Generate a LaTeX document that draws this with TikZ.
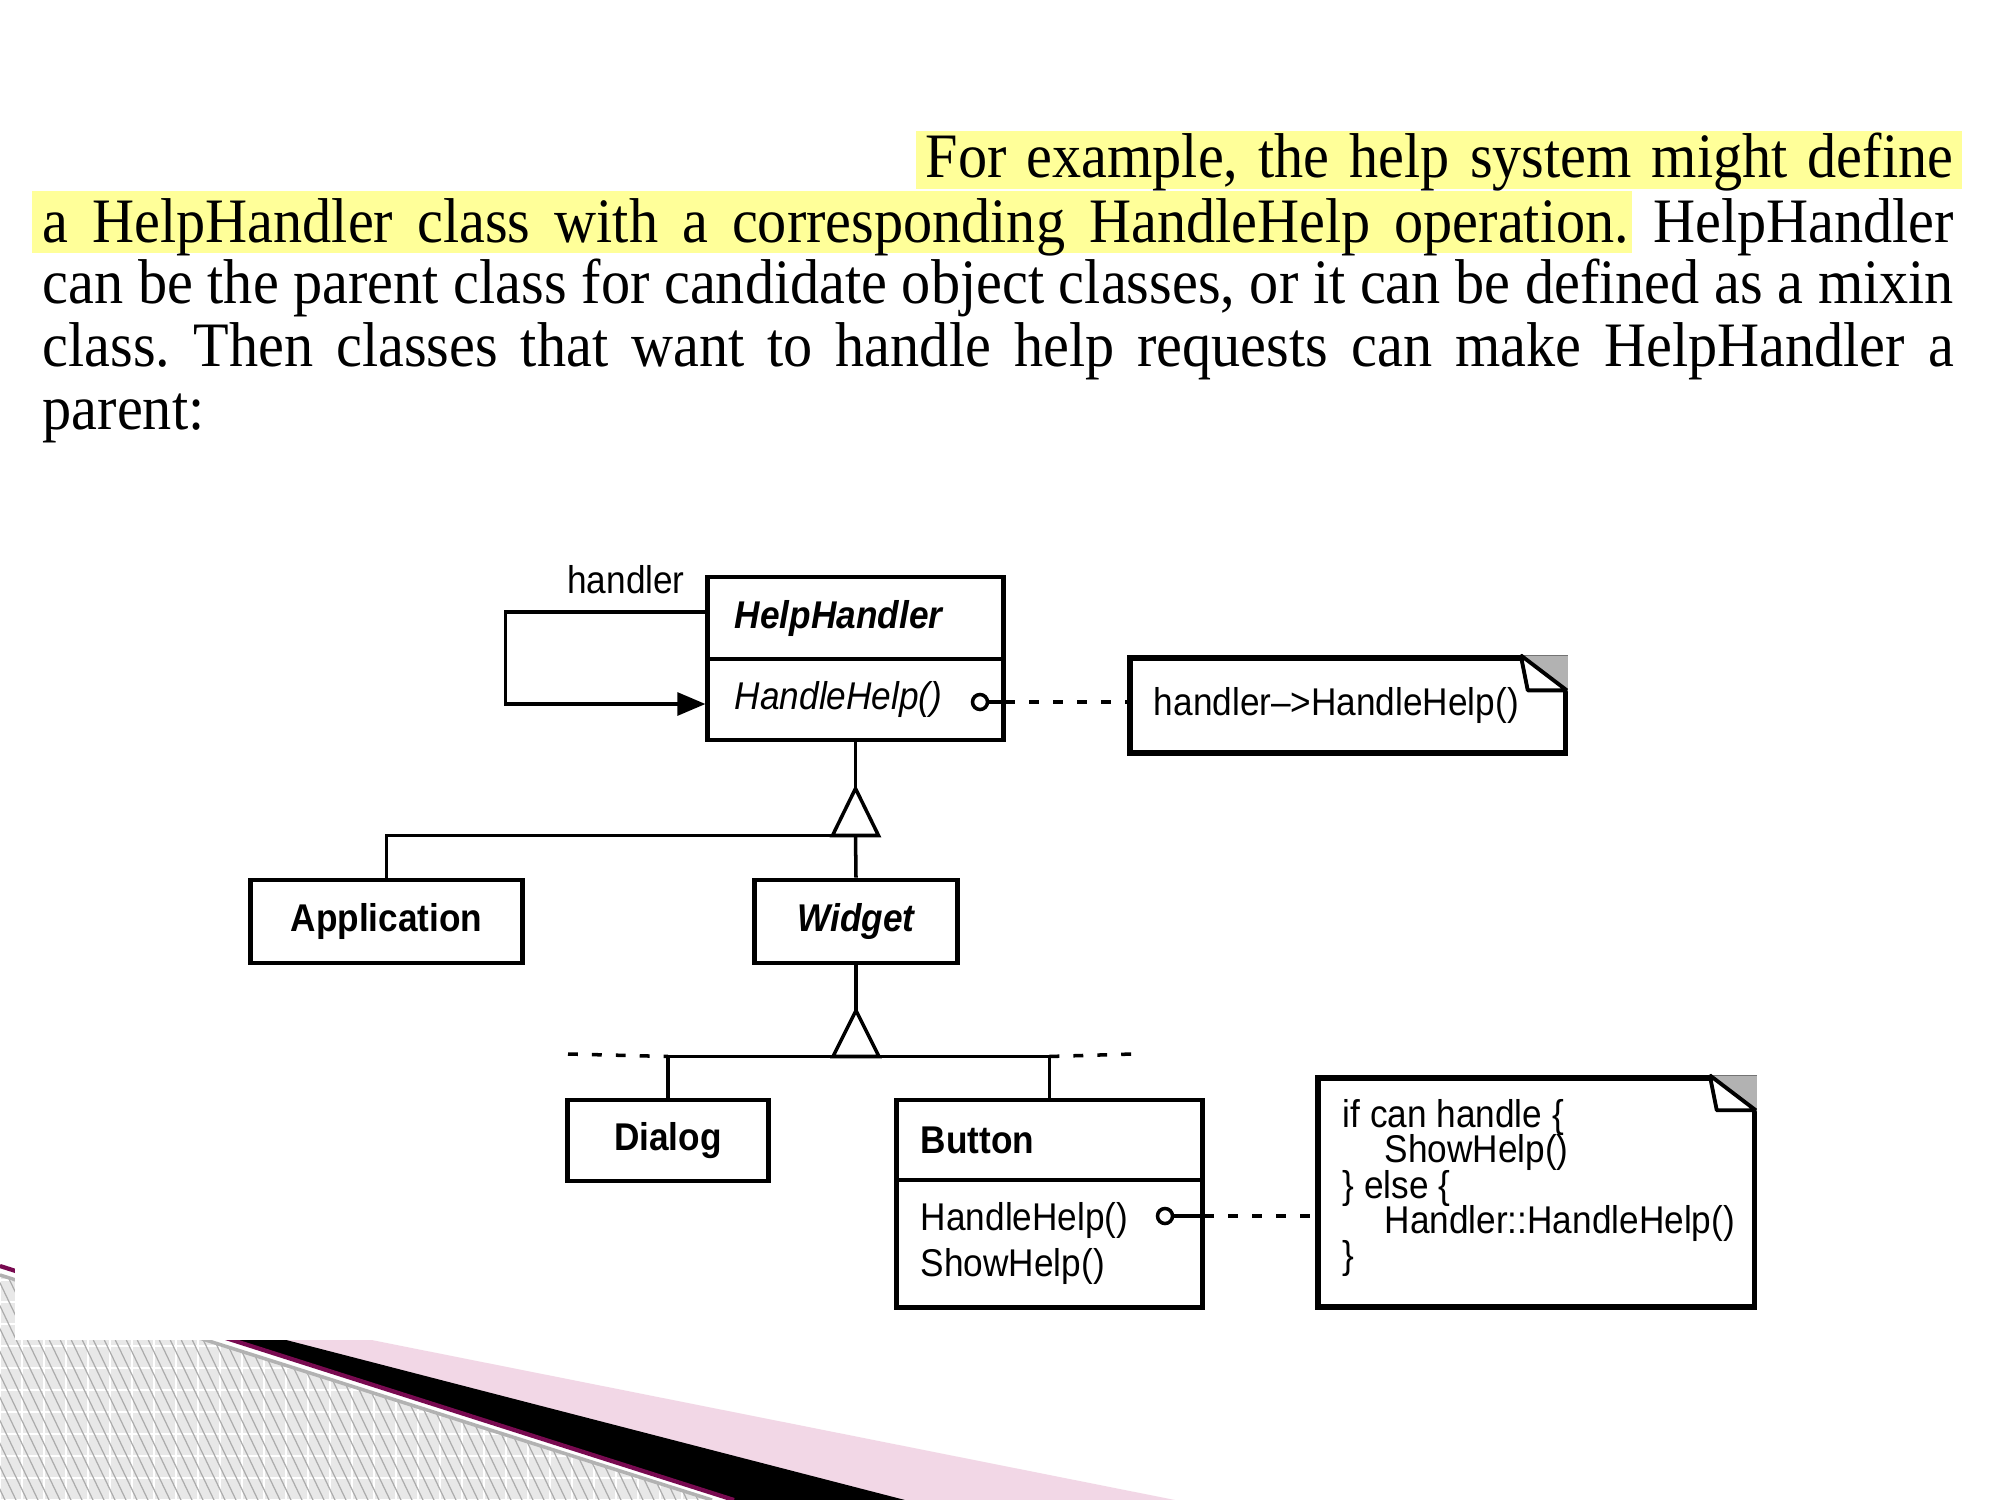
\documentclass[tikz,border=0pt]{standalone}
\usepackage{fontspec}
\setmainfont[FakeStretch=0.92]{Liberation Serif}
\newfontfamily\umlfont[FakeStretch=0.91]{Liberation Sans}
\usetikzlibrary{arrows.meta,calc}

\definecolor{marker}{RGB}{255,255,153}
\definecolor{bandpink}{RGB}{242,215,230}
\definecolor{bandpurple}{RGB}{120,10,80}
\definecolor{hatchbase}{RGB}{232,232,232}
\definecolor{hatchline}{RGB}{172,172,172}

% one justified line of the paragraph, spread to a given width
\newcommand\spreadline[2]{\hbox to #1{\frenchspacing\spaceskip=.25em plus 1fil minus .08em\relax\xspaceskip=\spaceskip\relax #2}}

% code lines set on a fixed pitch, whatever their height
\newcommand\tightlines{\lineskiplimit=-20pt\relax\lineskip=0pt\relax}

% folded corner of a UML note
\newcommand\foldcorner[1]{%
  \fill[gray!60] ($(#1.north east)+(-47,0)$) -- (#1.north east) -- ($(#1.north east)+(0,36)$) -- cycle;
  \draw[line width=1.1pt, fill=white, line join=bevel] ($(#1.north east)+(-47,0)$) -- ($(#1.north east)+(-40,35)$) -- ($(#1.north east)+(-1,35)$) -- cycle;
}

\tikzset{
  para/.style={font=\fontsize{18}{21}\selectfont, inner sep=0pt, anchor=base west},
  umltext/.style={font=\umlfont\fontsize{11}{13}\selectfont},
  umlbox/.style={draw, line width=1.4pt, inner sep=0pt, umltext},
  conn/.style={line width=1pt},
  dashlink/.style={line width=1pt, dash pattern=on 2.8pt off 4pt},
  pin/.style={circle, draw, fill=white, line width=1pt, minimum size=0.15cm, inner sep=0pt},
}

\begin{document}
\begin{tikzpicture}[x=0.01cm, y=-0.01cm]
\useasboundingbox (0,0) rectangle (2000,1500);
\fill[white] (0,0) rectangle (2000,1500);

% ---- slide decoration, lower left ----
\fill[bandpink] (0,1266) -- (1175,1500) -- (734,1500) -- cycle;
\fill[black] (0,1266) -- (905,1500) -- (734,1500) -- cycle;
\begin{scope}
  \clip (0,1275) -- (712,1500) -- (0,1500) -- cycle;
  \fill[hatchbase] (0,1260) rectangle (720,1500);
  \foreach \i in {0,...,33} \draw[white, line width=0.5pt] (\i*22,1260) -- (\i*22,1500);
  \foreach \j in {0,...,11} \draw[white, line width=0.5pt] (0,1280+\j*22) -- (720,1280+\j*22);
  \foreach \i in {-12,...,66} \draw[hatchline, line width=0.35pt] (\i*11,1260) -- (\i*11+115,1500);
\end{scope}
\draw[gray!60, line width=1pt] (0,1275) -- (712,1500);
\draw[bandpurple, line width=1.2pt] (0,1266) -- (734,1500);

% white panel carrying the page
\fill[white] (15,0) rectangle (2000,1340);

% ---- highlighted text ----
\fill[marker] (916,131) rectangle (1962,189);
\fill[marker] (32,191) rectangle (1632,253);

\node[para] (l1) at (925,178) {\spreadline{10.27cm}{For example, the help system might define}};
\node[para] (l2) at (42,242) {\spreadline{19.1cm}{a HelpHandler class with a corresponding HandleHelp operation. HelpHandler}};
\node[para] (l3) at (42,304) {\spreadline{19.1cm}{can be the parent class for candidate object classes, or it can be defined as a mixin}};
\node[para] (l4) at (42,366) {\spreadline{19.1cm}{class. Then classes that want to handle help requests can make HelpHandler a}};
\node[para] (l5) at (42,429) {parent:};

% ---- class diagram ----
\node[umlbox, minimum height=0.82cm, text width=2.41cm, inner xsep=0.27cm, align=left,
      font=\umlfont\fontsize{11}{13}\selectfont\bfseries\itshape] (hhname) at (855.5,618) {HelpHandler};
\node[umlbox, minimum height=0.81cm, text width=2.41cm, inner xsep=0.27cm, align=left,
      font=\umlfont\fontsize{11}{13}\selectfont\itshape] (hhops) at (855.5,699.5) {HandleHelp()};
\node[umltext] (rolelabel) at (626,580) {handler};

\node[umlbox, line width=1.5pt, minimum height=0.95cm, text width=3.87cm, inner xsep=0.24cm, align=left] (note1) at (1347.5,705.5) {handler–>HandleHelp()};
\foldcorner{note1}

\node[umlbox, minimum width=2.71cm, minimum height=0.83cm,
      font=\umlfont\fontsize{11}{13}\selectfont\bfseries] (app) at (386.5,921.5) {Application};
\node[umlbox, minimum width=2.02cm, minimum height=0.83cm,
      font=\umlfont\fontsize{11}{13}\selectfont\bfseries\itshape] (widget) at (856,921.5) {Widget};
\node[umlbox, minimum width=2.00cm, minimum height=0.81cm,
      font=\umlfont\fontsize{11}{13}\selectfont\bfseries] (dialog) at (668,1140.5) {Dialog};
\node[umlbox, minimum height=0.80cm, text width=2.57cm, inner xsep=0.24cm, align=left,
      font=\umlfont\fontsize{11}{13}\selectfont\bfseries] (bname) at (1049.5,1140) {Button};
\node[umlbox, minimum height=1.27cm, text width=2.57cm, inner xsep=0.24cm, align=left,
      font=\umlfont\fontsize{11}{13}\selectfont] (bops) at (1049.5,1243.5) {HandleHelp()\\ShowHelp()};

\node[umlbox, line width=1.5pt, minimum width=4.36cm, minimum height=2.29cm] (note2) at (1536,1192.5) {};
\foldcorner{note2}
\node[anchor=west, inner sep=0pt, align=left,
      font=\umlfont\fontsize{11}{10}\selectfont\tightlines] (note2text) at (1342,1188)
  {if can handle \{\\\hspace*{0.42cm}ShowHelp()\\\} else \{\\\hspace*{0.42cm}Handler::HandleHelp()\\\}};

% self association "handler"
\draw[conn, -{Triangle[length=8pt,width=6.5pt]}] ([yshift=0.06cm]hhname.west) -- ++(-200,0) |- ([yshift=-0.045cm]hhops.west);

% operation notes
\node[pin] (pin1) at (980,702) {};
\draw[conn] (pin1.east) -- (pin1.east -| hhops.east);
\draw[dashlink] (pin1.east -| hhops.east) -- (pin1.east -| note1.west);

\node[pin] (pin2) at (1165,1216) {};
\draw[conn] (pin2.east) -- (pin2.east -| bops.east);
\draw[dashlink] (pin2.east -| bops.east) -- (pin2.east -| note2.west);

% generalization: Application, Widget -> HelpHandler
\coordinate (g1) at ($(hhops.south)+(0,46)$);
\coordinate (g1b) at ($(g1)+(0,47)$);
\draw[conn] (hhops.south) -- (g1);
\draw[conn] (app.north) |- (g1b);
\draw[conn] (g1b) -- (widget.north);
\draw[conn, line join=miter, fill=white] (g1) -- ++(-23,47) -- ++(46,0) -- cycle;

% generalization: Dialog, Button -> Widget
\coordinate (g2) at ($(widget.south)+(0,45)$);
\coordinate (g2b) at ($(g2)+(0,46)$);
\coordinate (dl) at (568,1054);
\coordinate (dr) at (1133,1054);
\draw[conn] (widget.south) -- (g2);
\draw[conn] (dialog.north) |- (g2b) -| (bname.north);
\draw[dashlink] (dl) -- (dialog.north |- g2b);
\draw[dashlink] (bname.north |- g2b) -- (dr);
\draw[conn, line join=miter, fill=white] (g2) -- ++(-23,46) -- ++(46,0) -- cycle;
\end{tikzpicture}
\end{document}
